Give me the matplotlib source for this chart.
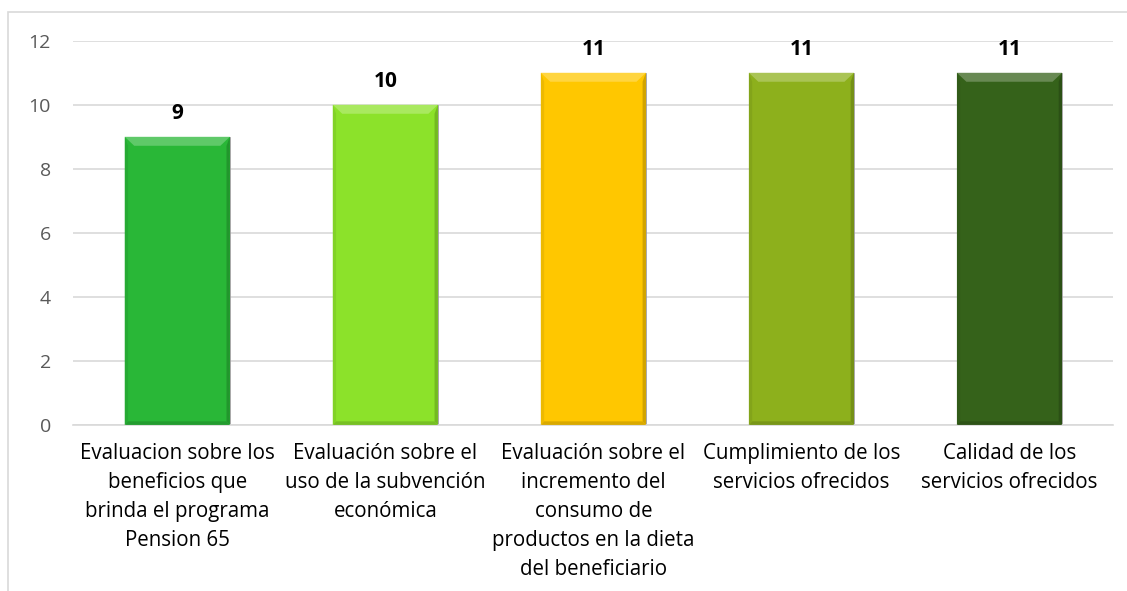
import numpy as np
import matplotlib.pyplot as plt
from matplotlib.patches import Polygon, Rectangle
from matplotlib.colors import to_rgb

categorias = ['Evaluacion sobre los\nbeneficios que\nbrinda el programa\nPension 65',
              'Evaluación sobre el\nuso de la subvención\neconómica',
              'Evaluación sobre el\nincremento del\nconsumo de\nproductos en la dieta\ndel beneficiario',
              'Cumplimiento de los\nservicios ofrecidos',
              'Calidad de los\nservicios ofrecidos']
valores = [9, 10, 11, 11, 11]
colores = ['#29B737', '#8CE22A', '#FFC700', '#8DB01C', '#35621A']

plt.rcParams['font.family'] = ['Open Sans', 'DejaVu Sans']

fig = plt.figure(figsize=(11.27, 5.91), dpi=100)
ax = fig.add_axes([0.065, 0.281, 0.923, 0.65])

# frame around the chart area (runs off the right and bottom edges)
fig.patches.append(Rectangle((0.007, -0.1), 1.1, 1.08, transform=fig.transFigure,
                             fill=False, edgecolor='#D9D9D9', lw=1.2))

x = np.arange(len(valores))
bars = ax.bar(x, valores, width=0.505, color=colores, zorder=2,
              edgecolor='none')

def shade(c, f):
    r, g, b = to_rgb(c)
    if f > 1:
        return tuple(v + (1 - v) * (f - 1) for v in (r, g, b))
    return tuple(v * f for v in (r, g, b))

# bevel edges on each bar
for b, c in zip(bars, colores):
    x0, y0 = b.get_x(), b.get_y()
    w, h = b.get_width(), b.get_height()
    x1, y1 = x0 + w, y0 + h
    dx, dy = w * 0.09, 0.28
    ax.add_patch(Polygon([(x0, y1), (x1, y1), (x1 - dx, y1 - dy), (x0 + dx, y1 - dy)],
                         closed=True, color=shade(c, 1.25), lw=0, zorder=3))
    ax.add_patch(Polygon([(x1, y1), (x1, y0), (x1 - dx * 0.35, y0 + dy * 0.4), (x1 - dx * 0.35, y1 - dy)],
                         closed=True, color=shade(c, 0.82), lw=0, zorder=3))
    ax.add_patch(Polygon([(x0, y0), (x1, y0), (x1 - dx * 0.35, y0 + dy * 0.4), (x0 + dx * 0.35, y0 + dy * 0.4)],
                         closed=True, color=shade(c, 0.85), lw=0, zorder=3))
    ax.add_patch(Polygon([(x0, y1), (x0, y0), (x0 + dx * 0.35, y0 + dy * 0.4), (x0 + dx * 0.35, y1 - dy)],
                         closed=True, color=shade(c, 0.93), lw=0, zorder=3))
    ax.add_patch(Rectangle((x0, y0), w, h, fill=False, edgecolor='#9a9a9a', lw=0.6, zorder=1.9))
    ax.annotate(str(int(h)), (b.get_x() + w / 2, y1), xytext=(0, 9),
                textcoords='offset points', ha='center', va='bottom',
                fontsize=15, fontweight='bold', color='black')

ax.set_ylim(0, 12)
ax.set_xlim(-0.5, len(valores) - 0.5)
ax.set_yticks(range(0, 13, 2))
ax.yaxis.grid(True, color='#D9D9D9', lw=1.2, zorder=0)
ax.set_axisbelow(True)
for s in ['top', 'right', 'left']:
    ax.spines[s].set_visible(False)
ax.spines['bottom'].set_color('#D9D9D9')
ax.spines['bottom'].set_linewidth(1.2)
ax.tick_params(axis='y', length=0, labelsize=14, colors='#595959', pad=16)
ax.tick_params(axis='x', length=0, labelsize=14.8, colors='black', pad=13)
ax.set_xticks(x)
ax.set_xticklabels(categorias, linespacing=1.5)

fig.savefig('out.png', dpi=100)
